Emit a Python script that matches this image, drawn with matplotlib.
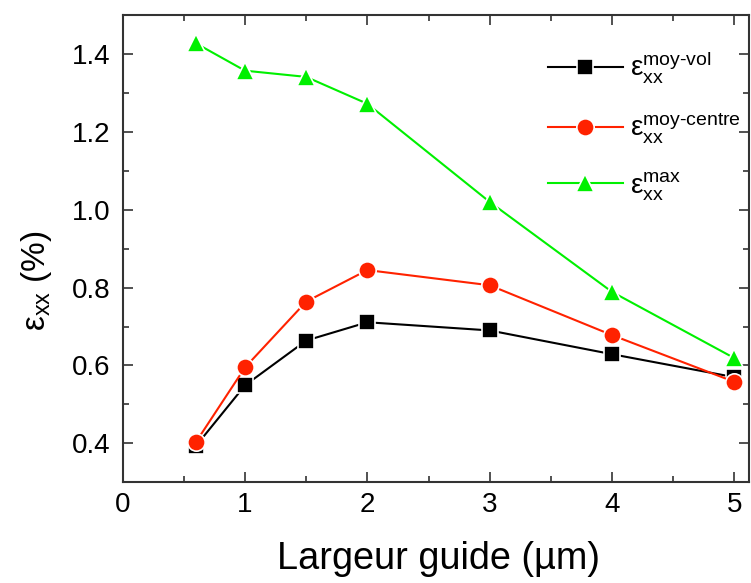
import matplotlib
matplotlib.use("Agg")
import matplotlib.pyplot as plt
from matplotlib.ticker import MultipleLocator

plt.rcParams['font.family'] = ['Liberation Sans', 'DejaVu Sans']
plt.rcParams['mathtext.fontset'] = 'custom'
plt.rcParams['mathtext.rm'] = 'Liberation Sans'
plt.rcParams['mathtext.it'] = 'Liberation Sans:italic'
plt.rcParams['mathtext.sf'] = 'Liberation Sans'

largeur = [0.6, 1.0, 1.5, 2.0, 3.0, 4.0, 5.0]
eps_moy_vol = [0.394, 0.549, 0.664, 0.711, 0.690, 0.629, 0.570]
eps_moy_centre = [0.404, 0.595, 0.764, 0.845, 0.806, 0.678, 0.558]
eps_max = [1.427, 1.357, 1.341, 1.272, 1.020, 0.789, 0.619]

labels = [r'$\mathrm{ε}_{\mathrm{xx}}^{\mathrm{moy}\text{-}\mathrm{vol}}$',
          r'$\mathrm{ε}_{\mathrm{xx}}^{\mathrm{moy}\text{-}\mathrm{centre}}$',
          r'$\mathrm{ε}_{\mathrm{xx}}^{\mathrm{max}}$']

fig = plt.figure(figsize=(7.51, 5.83), dpi=100)
ax = fig.add_axes([0.1634, 0.1727, 0.8339, 0.8016])

kw = dict(linewidth=1.5, markeredgecolor='white', markeredgewidth=1.2)
ax.plot(largeur, eps_moy_vol, color='black', marker='s', markersize=11, label=labels[0], **kw)
ax.plot(largeur, eps_moy_centre, color='#ff2200', marker='o', markersize=12.5, label=labels[1], **kw)
ax.plot(largeur, eps_max, color='#00f000', marker='^', markersize=13.5, label=labels[2], **kw)

ax.set_xlim(0, 5.12)
ax.set_ylim(0.3, 1.5)
ax.xaxis.set_major_locator(MultipleLocator(1))
ax.xaxis.set_minor_locator(MultipleLocator(0.5))
ax.yaxis.set_minor_locator(MultipleLocator(0.1))
ax.set_yticks([0.4, 0.6, 0.8, 1.0, 1.2, 1.4])
ax.tick_params(which='both', direction='in', top=True, right=True, labelsize=20,
               width=1.2, color='#333333')
ax.tick_params(which='major', length=7)
ax.tick_params(which='minor', length=4.5)
ax.tick_params(axis='x', pad=7)
ax.tick_params(axis='y', pad=9)
for s in ax.spines.values():
    s.set_linewidth(1.5)
    s.set_color('#333333')

ax.set_xlabel('Largeur guide (µm)', fontsize=27.3)
ax.xaxis.set_label_coords(0.505, -0.125)
ax.xaxis.label.set_va('top')
ax.set_ylabel(r'$\mathrm{ε}_{\mathrm{xx}}$ (%)', fontsize=24)
ax.yaxis.set_label_coords(-0.11, 0.431)

leg = ax.legend(loc='upper left', bbox_to_anchor=(0.679, 0.925), frameon=False,
                fontsize=20, handlelength=2.7, handletextpad=0.25, labelspacing=0.87,
                numpoints=1, borderpad=0, borderaxespad=0)

fig.savefig('out.png', dpi=100)
